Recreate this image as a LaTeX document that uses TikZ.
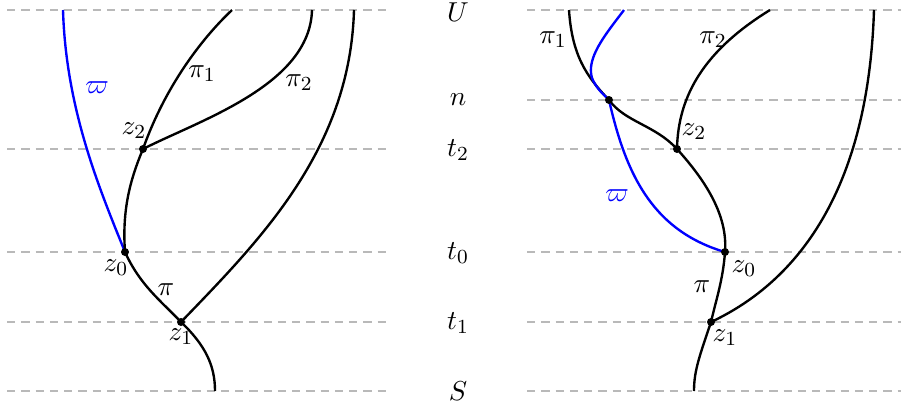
\documentclass[tikz,border=0pt]{standalone}
\begin{document}
\begin{tikzpicture}[x=0.4pt,y=-0.4pt,
  curve/.style={line width=0.95pt,black},
  bcurve/.style={line width=0.95pt,blue},
  level/.style={gray!55,line width=0.45pt,dash pattern=on 3.3pt off 2.4pt},
  pt/.style={circle,fill=black,inner sep=0pt,minimum size=3.2pt},
  lab/.style={inner sep=0pt,font=\fontsize{11}{13}\selectfont}]
\useasboundingbox (0,0) rectangle (901,408);
% dashed levels
\foreach \yy/\nm in {10/U,149/t2,252/t0,322/t1,391/S}{
  \coordinate (La\nm) at (7,\yy); \coordinate (Lb\nm) at (390,\yy);
  \draw[level] (La\nm) -- (Lb\nm);}
\foreach \yy/\nm in {10/U,100/n,149/t2,252/t0,322/t1,391/S}{
  \coordinate (Ra\nm) at (527,\yy); \coordinate (Rb\nm) at (901,\yy);
  \draw[level] (Ra\nm) -- (Rb\nm);}
% level labels
\node[lab] (labU) at (458,12) {$U$};
\node[lab] (labn) at (458,100) {$n$};
\node[lab] (labt2) at (458,150) {$t_2$};
\node[lab] (labt0) at (458,253) {$t_0$};
\node[lab] (labt1) at (458,323) {$t_1$};
\node[lab] (labS) at (458,391) {$S$};
% ---------- left panel ----------
\coordinate (L0) at (125,252);
\coordinate (L1) at (181,322);
\coordinate (L2) at (143,149);
\coordinate (Lw) at (63,10);
\coordinate (Lp1) at (232,10);
\coordinate (Lp2) at (312,10);
\coordinate (Lbig) at (354,10);
\coordinate (Lbot) at (215,391);
\draw[bcurve] (Lw) .. controls (66,110) and (100,190) .. (L0);
\draw[curve] (L0) .. controls (122,210) and (130,180) .. (L2);
\draw[curve] (L2) .. controls (162,95) and (195,45) .. (Lp1);
\draw[curve] (L2) .. controls (200,120) and (310,85) .. (Lp2);
\draw[curve] (L1) .. controls (260,240) and (350,150) .. (Lbig);
\draw[curve] (L0) .. controls (140,285) and (160,300) .. (L1);
\draw[curve] (L1) .. controls (205,345) and (215,365) .. (Lbot);
\node[pt] (dL0) at (L0) {};
\node[pt] (dL1) at (L1) {};
\node[pt] (dL2) at (L2) {};
\node[lab,blue] (lw) at (97,88) {$\varpi$};
\node[lab] (lz2) at (134,131) {$z_2$};
\node[lab] (lpi1) at (202,74) {$\pi_1$};
\node[lab] (lpi2) at (299,83) {$\pi_2$};
\node[lab] (lz0) at (116,268) {$z_0$};
\node[lab] (lpi) at (166,290) {$\pi$};
\node[lab] (lz1) at (181,337) {$z_1$};
% ---------- right panel ----------
\coordinate (Rn) at (609,100);
\coordinate (R2) at (677,149);
\coordinate (R0) at (725,252);
\coordinate (R1) at (711,322);
\coordinate (Rp1) at (569,10);
\coordinate (Rw) at (624,10);
\coordinate (Rm) at (592,78);
\coordinate (Rp2) at (770,10);
\coordinate (Rbig) at (874,10);
\coordinate (Rbot) at (694,391);
\draw[curve] (Rp1) .. controls (572,55) and (586,76) .. (Rn);
\draw[curve] (Rn) .. controls (625,122) and (655,125) .. (R2);
\draw[curve] (R2) .. controls (705,180) and (728,215) .. (R0);
\draw[curve] (R0) .. controls (723,280) and (716,300) .. (R1);
\draw[curve] (R1) .. controls (700,355) and (694,370) .. (Rbot);
\draw[curve] (R2) .. controls (678,95) and (705,50) .. (Rp2);
\draw[curve] (R1) .. controls (790,285) and (868,200) .. (Rbig);
\draw[bcurve] (Rw) .. controls (605,35) and (586,58) .. (Rm)
   .. controls (596,88) and (603,94) .. (Rn);
\draw[bcurve] (Rn) .. controls (625,170) and (650,230) .. (R0);
\node[pt] (dRn) at (Rn) {};
\node[pt] (dR2) at (R2) {};
\node[pt] (dR0) at (R0) {};
\node[pt] (dR1) at (R1) {};
\node[lab] (rpi1) at (553,40) {$\pi_1$};
\node[lab] (rpi2) at (713,40) {$\pi_2$};
\node[lab] (rz2) at (694,132) {$z_2$};
\node[lab,blue] (rw) at (617,196) {$\varpi$};
\node[lab] (rz0) at (744,269) {$z_0$};
\node[lab] (rpi) at (702,287) {$\pi$};
\node[lab] (rz1) at (725,338) {$z_1$};
\end{tikzpicture}
\end{document}
